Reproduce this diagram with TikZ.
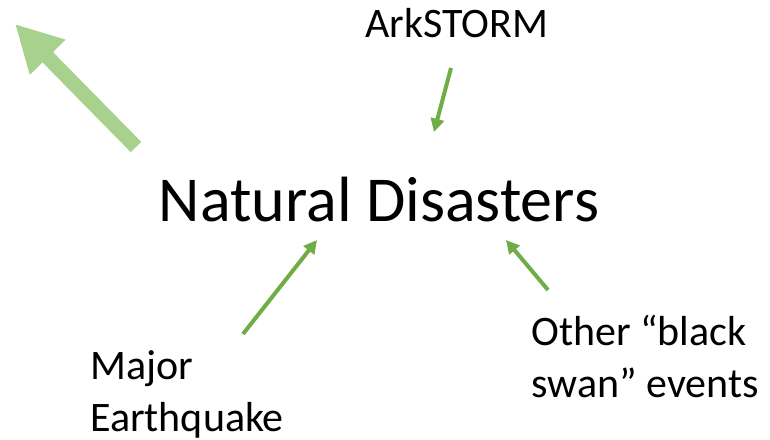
\documentclass[tikz,border=0pt]{standalone}
\usepackage{fontspec}
\setmainfont{Carlito}
\usetikzlibrary{arrows.meta}
\definecolor{softgreen}{HTML}{A9D18E}
\definecolor{leafgreen}{HTML}{70AD47}

\begin{document}
\begin{tikzpicture}[
  x=0.75pt, y=-0.75pt,
  title/.style={font=\fontsize{48}{56}\selectfont, inner sep=0pt, anchor=base},
  cause/.style={font=\fontsize{31.5}{39}\selectfont, inner sep=0pt, align=left},
  arr/.style={-{Triangle[length=10pt, width=10pt]}, line width=3pt, color=leafgreen},
  bigarr/.style={-{Triangle[length=35pt, width=35pt]}, line width=11pt, color=softgreen}
]
\useasboundingbox (0,0) rectangle (770,439);

% Nodes
\node[title] (nd) at (379,221) {Natural Disasters};
\node[cause, anchor=base] (ark) at (457,37) {ArkSTORM};
\node[cause, anchor=north west] (quake) at (90,350) {Major\\Earthquake};
\node[cause, anchor=north west] (swan) at (531,315) {Other “black\\swan” events};

% Arrow ends
\coordinate (arkend) at (451,68);
\coordinate (ndtop) at (434,132);
\coordinate (quakeend) at (243,334);
\coordinate (ndleft) at (317,240);
\coordinate (swanend) at (548,290);
\coordinate (ndright) at (506,240);
\coordinate (bigstart) at (136,147);
\coordinate (bigtip) at (15,24);

% Arrows
\draw[arr] (arkend) -- (ndtop);
\draw[arr] (quakeend) -- (ndleft);
\draw[arr] (swanend) -- (ndright);
\draw[bigarr] (bigstart) -- (bigtip);

\end{tikzpicture}
\end{document}
